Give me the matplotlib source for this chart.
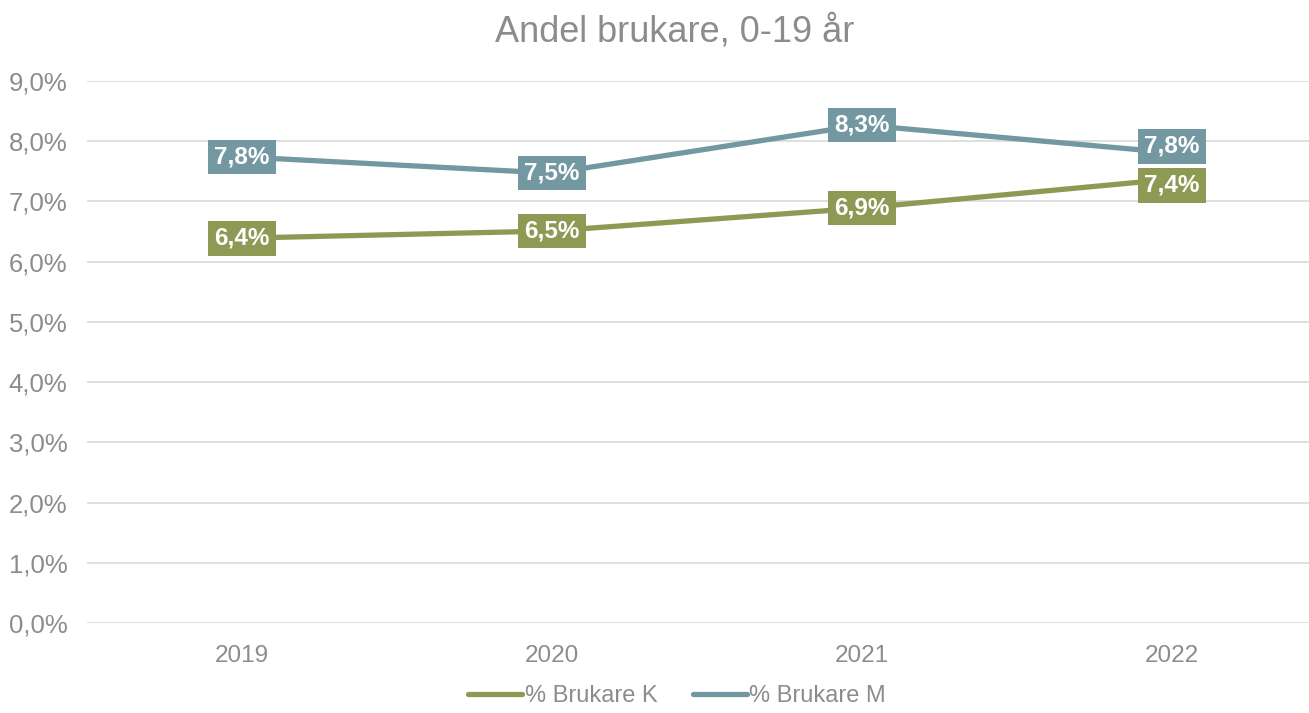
import matplotlib
matplotlib.use("Agg")
import matplotlib.pyplot as plt
from matplotlib.ticker import FuncFormatter

plt.rcParams['font.family'] = ['Liberation Sans', 'DejaVu Sans']

years = ["2019", "2020", "2021", "2022"]
brukare_k = [6.4, 6.5, 6.9, 7.4]
brukare_m = [7.8, 7.5, 8.3, 7.8]
pos_k = [6.39, 6.51, 6.89, 7.37]
pos_m = [7.74, 7.47, 8.27, 7.81]
# label shift (points) where the two boxes would collide
shift_k = [0, 0, 0, -4.5]
shift_m = [0, 0, 0, 4.5]

green = "#8E9A53"
blue = "#7398A2"
grey = "#8C8C8C"

fig = plt.figure(figsize=(13.09, 7.13), dpi=100)
ax = fig.add_axes([87 / 1309, 90 / 713, 1240 / 1309, 542 / 713])

x = range(len(years))
ax.plot(x, pos_k, color=green, lw=3.8, solid_capstyle="round", label="% Brukare K", zorder=3)
ax.plot(x, pos_m, color=blue, lw=3.8, solid_capstyle="round", label="% Brukare M", zorder=3)


def labels(pos, vals, shifts, col):
    for xi, yv, lab, dy in zip(x, pos, vals, shifts):
        ax.annotate(f"{lab:.1f}%".replace(".", ","), (xi, yv), xytext=(0, dy),
                    textcoords="offset points", ha="center", va="center",
                    color="white", fontsize=17.5, fontweight="bold", zorder=4,
                    bbox=dict(boxstyle="square,pad=0.24", fc=col, ec="none"))


labels(pos_k, brukare_k, shift_k, green)
labels(pos_m, brukare_m, shift_m, blue)

ax.set_xlim(-0.5, 3.5)
ax.set_ylim(0, 9)
ax.set_yticks([i for i in range(10)])
ax.yaxis.set_major_formatter(FuncFormatter(lambda v, p: f"{v:.1f}%".replace(".", ",")))
ax.set_xticks(list(x))
ax.set_xticklabels(years)
ax.grid(axis="y", color="#D9D9D9", lw=1.2)
ax.set_axisbelow(True)
for s in ax.spines.values():
    s.set_visible(False)
ax.tick_params(length=0, labelsize=17.5, colors=grey)
ax.tick_params(axis="y", labelsize=18.5, pad=14)
ax.tick_params(axis="x", pad=16)

fig.suptitle("Andel brukare, 0-19 år", x=675 / 1309, y=0.98, fontsize=26, color=grey)
leg = fig.legend(loc="lower center", bbox_to_anchor=(677 / 1309, -0.022), ncol=2, frameon=False,
                 fontsize=17, labelcolor=grey, handlelength=2.3, handletextpad=0.1, columnspacing=1.5)
for h in leg.get_lines():
    h.set_solid_capstyle("round")

fig.savefig("out.png", dpi=100)
